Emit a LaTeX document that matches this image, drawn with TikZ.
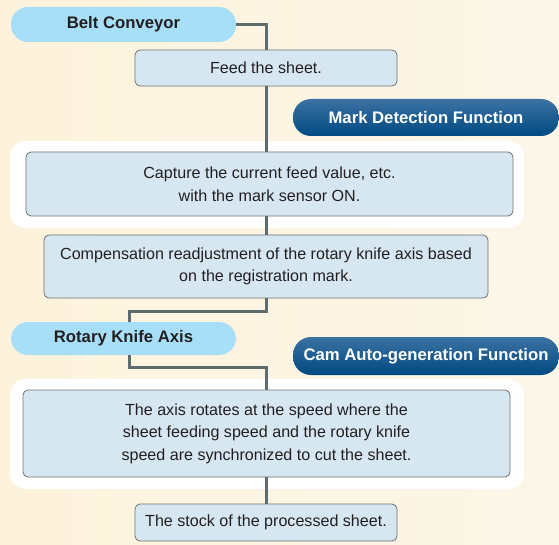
\documentclass[tikz,border=0pt]{standalone}
\usepackage{fontspec}
\setmainfont{Liberation Sans}
\definecolor{bgleft}{HTML}{FDF3DC}
\definecolor{bgright}{HTML}{FBF6E8}
\definecolor{pillsky}{HTML}{A8DFF8}
\definecolor{pilltop}{HTML}{3C71A3}
\definecolor{pillbottom}{HTML}{004A82}
\definecolor{boxfill}{HTML}{D6E7F2}
\definecolor{boxedge}{HTML}{707070}
\definecolor{wire}{HTML}{5E6B6F}
\definecolor{inkdark}{HTML}{231F20}
\newcommand\stepfont{\fontsize{16.1}{22.6}\selectfont}
\newcommand\pillfont{\fontsize{16.7}{20}\selectfont\bfseries}
\begin{document}
\begin{tikzpicture}[x=1pt,y=-1pt,
    stepbox/.style={draw=boxedge,fill=boxfill,line width=0.8pt,rounded corners=5pt,
      inner sep=0pt,align=center,font=\stepfont,text=inkdark},
    axispill/.style={fill=pillsky,rounded corners=17pt,inner sep=0pt,
      minimum width=225pt,font=\pillfont,text=inkdark},
    funcpill/.style={top color=pilltop,bottom color=pillbottom,rounded corners=18pt,
      inner sep=0pt,minimum width=266pt,font=\pillfont,text=white},
    panel/.style={fill=white,rounded corners=16pt,inner sep=0pt},
    link/.style={draw=wire,line width=3pt}]
  \useasboundingbox (0,0) rectangle (559,545);
  \shade[left color=bgleft,right color=bgright] (0,0) rectangle (559,545);
  % white panels behind the function steps
  \node[panel,minimum width=514pt,minimum height=87pt] (panelA) at (267,184.5) {};
  \node[panel,minimum width=514pt,minimum height=110pt] (panelB) at (267,434) {};
  % axis labels and function labels
  \node[axispill,minimum height=35pt] (belt) at (123.5,24.5) {Belt Conveyor};
  \node[axispill,minimum height=33pt] (rotary) at (123.5,338.5) {Rotary Knife Axis};
  \node[funcpill,minimum height=37pt] (markfn) at (426,117.5) {Mark Detection Function};
  \node[funcpill,minimum height=38pt] (camfn) at (426,356) {Cam Auto-generation Function};
  % steps
  \node[stepbox,minimum width=262pt,minimum height=36pt] (feed) at (266,68) {Feed the sheet.};
  \node[stepbox,minimum width=487pt,minimum height=64pt] (capture) at (269.5,184)
    {Capture the current feed value, etc.\\with the mark sensor ON.};
  \node[stepbox,minimum width=444pt,minimum height=63pt] (comp) at (266,266.5)
    {Compensation readjustment of the rotary knife axis based\\on the registration mark.};
  \node[stepbox,minimum width=487pt,minimum height=87pt] (axisrot) at (266.5,433.5)
    {The axis rotates at the speed where the\\sheet feeding speed and the rotary knife\\speed are synchronized to cut the sheet.};
  \node[stepbox,minimum width=262pt,minimum height=37pt] (stock) at (266,522.5)
    {The stock of the processed sheet.};
  % connectors
  \coordinate (bendA) at (129,311);
  \coordinate (bendB) at (129,367);
  \draw[link] (belt.east) -| (feed.north);
  \draw[link] (feed.south) -- (feed.south |- capture.north);
  \draw[link] (comp.north |- capture.south) -- (comp.north);
  \draw[link] (comp.south) |- (bendA) -- (bendA |- rotary.north);
  \draw[link] (bendB |- rotary.south) -- (bendB) -| (axisrot.north);
  \draw[link] (axisrot.south -| stock.north) -- (stock.north);
\end{tikzpicture}
\end{document}
